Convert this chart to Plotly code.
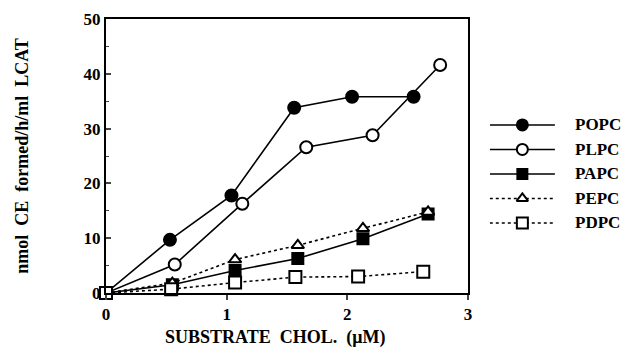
import plotly.graph_objects as go

series_names = ["POPC", "PLPC", "PAPC", "PEPC", "PDPC"]
popc_x = [0, 0.53, 1.04, 1.56, 2.04, 2.55]
popc_y = [0, 9.7, 17.8, 33.8, 35.8, 35.8]
plpc_x = [0, 0.57, 1.13, 1.66, 2.21, 2.77]
plpc_y = [0, 5.2, 16.3, 26.6, 28.8, 41.6]
papc_x = [0, 0.55, 1.07, 1.59, 2.13, 2.67]
papc_y = [0, 1.5, 4.1, 6.3, 9.9, 14.4]
pepc_x = [0, 0.55, 1.07, 1.59, 2.13, 2.67]
pepc_y = [0, 1.8, 6.1, 8.7, 11.8, 14.8]
pdpc_x = [0, 0.54, 1.07, 1.57, 2.09, 2.63]
pdpc_y = [0, 0.7, 1.9, 2.9, 3.0, 3.9]

xs = [popc_x, plpc_x, papc_x, pepc_x, pdpc_x]
ys = [popc_y, plpc_y, papc_y, pepc_y, pdpc_y]
symbols = ["circle", "circle", "square", "triangle-up", "square"]
fills = ["black", "white", "black", "white", "white"]
dashes = ["solid", "solid", "solid", "dot", "dot"]
sizes = [12, 12, 11, 11, 12]

FONT = "Liberation Serif"
fig = go.Figure()
for name, x, y, sym, f, d, s in zip(series_names, xs, ys, symbols, fills, dashes, sizes):
    fig.add_trace(go.Scatter(
        x=x, y=y, mode="lines+markers", name=name, showlegend=False,
        line=dict(color="black", width=1.6, dash=d),
        marker=dict(symbol=sym, size=s, color=f, line=dict(color="black", width=2)),
        cliponaxis=False,
    ))

# custom legend on a blank secondary axis pair
legend_rows = [4, 3, 2, 1, 0]
for name, row, sym, f, d, s in zip(series_names, legend_rows, symbols, fills, dashes, sizes):
    fig.add_trace(go.Scatter(
        x=[0, 0.5, 1], y=[row, row, row], mode="lines", xaxis="x2", yaxis="y2",
        showlegend=False, line=dict(color="black", width=1.6, dash=d), hoverinfo="skip"))
    fig.add_trace(go.Scatter(
        x=[0.5], y=[row], mode="markers", xaxis="x2", yaxis="y2", showlegend=False,
        marker=dict(symbol=sym, size=s - 1, color=f, line=dict(color="black", width=2)),
        hoverinfo="skip", cliponaxis=False))
    fig.add_annotation(x=0.918, y=row, xref="paper", yref="y2", text="<b>" + name + "</b>",
                       showarrow=False, xanchor="left",
                       font=dict(family=FONT, size=17, color="black"))

# x-axis title (placed as annotation to match the original's offset)
fig.add_annotation(x=0.332, y=-0.164, xref="paper", yref="paper",
                   text="<b>SUBSTRATE&nbsp; CHOL.&nbsp; (μM)</b>", showarrow=False,
                   xanchor="center", yanchor="middle",
                   font=dict(family=FONT, size=18, color="black"))

blank = dict(showline=False, showticklabels=False, showgrid=False, zeroline=False, ticks="")
fig.update_layout(
    width=625, height=350,
    margin=dict(l=106, r=10, t=19, b=57),
    plot_bgcolor="rgba(0,0,0,0)", paper_bgcolor="white",
    font=dict(family=FONT, size=15, color="black"),
    xaxis=dict(domain=[0, 0.711], range=[0, 3], tickvals=[0, 1, 2, 3], showline=True,
               linecolor="black", linewidth=2, mirror=True, ticks="outside", ticklen=5,
               tickwidth=2, showgrid=False, zeroline=False, automargin=False,
               tickfont=dict(family=FONT, size=17, weight="bold")),
    yaxis=dict(range=[0, 50], tickvals=[0, 10, 20, 30, 40, 50], showline=True,
               linecolor="black", linewidth=2, mirror=True, ticks="inside", ticklen=5,
               tickwidth=2, showgrid=False, zeroline=False, automargin=False,
               minor=dict(ticks="inside", ticklen=3, tickwidth=1, dtick=5),
               tickfont=dict(family=FONT, size=17, weight="bold"),
               title=dict(text="<b>nmol&nbsp; CE&nbsp; formed/h/ml&nbsp; LCAT</b>",
                          font=dict(family=FONT, size=18), standoff=50)),
    xaxis2=dict(domain=[0.754, 0.882], range=[0, 1], anchor="y2", automargin=False, **blank),
    yaxis2=dict(domain=[0.211, 0.658], range=[-0.5, 4.5], anchor="x2", automargin=False, **blank),
)

fig.write_html("out.html")
